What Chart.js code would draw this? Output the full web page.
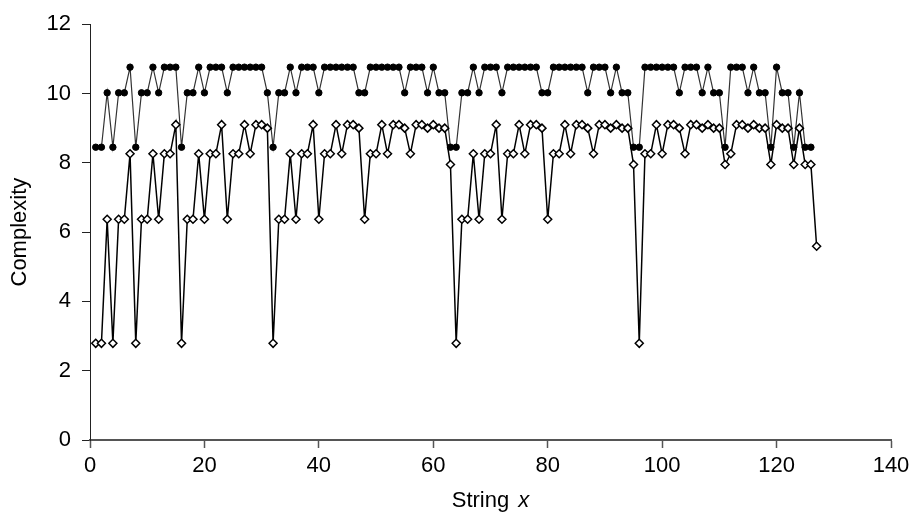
<!DOCTYPE html>
<html>
<head>
<meta charset="utf-8">
<script src="https://cdn.jsdelivr.net/npm/chart.js@4.4.1/dist/chart.umd.min.js"></script>
<style>
    html, body { margin: 0; padding: 0; background: #fff; }
    #wrap { width: 917px; height: 519px; }
</style>
</head>
<body>
<div id="wrap"><canvas id="complexityChart" width="917" height="519"></canvas></div>
<script>
// String index x
const xStrings = [
    1, 2, 3, 4, 5, 6, 7, 8, 9, 10, 11, 12, 13, 14, 15,
    16, 17, 18, 19, 20, 21, 22, 23, 24, 25, 26, 27, 28, 29, 30, 31,
    32, 33, 34, 35, 36, 37, 38, 39, 40, 41, 42, 43, 44, 45, 46, 47,
    48, 49, 50, 51, 52, 53, 54, 55, 56, 57, 58, 59, 60, 61, 62, 63,
    64, 65, 66, 67, 68, 69, 70, 71, 72, 73, 74, 75, 76, 77, 78, 79,
    80, 81, 82, 83, 84, 85, 86, 87, 88, 89, 90, 91, 92, 93, 94, 95,
    96, 97, 98, 99, 100, 101, 102, 103, 104, 105, 106, 107, 108, 109, 110, 111,
    112, 113, 114, 115, 116, 117, 118, 119, 120, 121, 122, 123, 124, 125, 126, 127
];

// Serie com círculos cheios (x = 1..126)
const filledSeries = [
    8.45, 8.45, 10.02, 8.45, 10.02, 10.02, 10.76, 8.45, 10.02, 10.02, 10.76, 10.02, 10.76, 10.76, 10.76,
    8.45, 10.02, 10.02, 10.76, 10.02, 10.76, 10.76, 10.76, 10.02, 10.76, 10.76, 10.76, 10.76, 10.76, 10.76, 10.02,
    8.45, 10.02, 10.02, 10.76, 10.02, 10.76, 10.76, 10.76, 10.02, 10.76, 10.76, 10.76, 10.76, 10.76, 10.76, 10.02,
    10.02, 10.76, 10.76, 10.76, 10.76, 10.76, 10.76, 10.02, 10.76, 10.76, 10.76, 10.02, 10.76, 10.02, 10.02, 8.45,
    8.45, 10.02, 10.02, 10.76, 10.02, 10.76, 10.76, 10.76, 10.02, 10.76, 10.76, 10.76, 10.76, 10.76, 10.76, 10.02,
    10.02, 10.76, 10.76, 10.76, 10.76, 10.76, 10.76, 10.02, 10.76, 10.76, 10.76, 10.02, 10.76, 10.02, 10.02, 8.45,
    8.45, 10.76, 10.76, 10.76, 10.76, 10.76, 10.76, 10.02, 10.76, 10.76, 10.76, 10.02, 10.76, 10.02, 10.02, 8.45,
    10.76, 10.76, 10.76, 10.02, 10.76, 10.02, 10.02, 8.45, 10.76, 10.02, 10.02, 8.45, 10.02, 8.45, 8.45
];

// Serie com losangos vazios (x = 1..127)
const openSeries = [
    2.79, 2.79, 6.37, 2.79, 6.37, 6.37, 8.26, 2.79, 6.37, 6.37, 8.26, 6.37, 8.26, 8.26, 9.1,
    2.79, 6.37, 6.37, 8.26, 6.37, 8.26, 8.26, 9.1, 6.37, 8.26, 8.26, 9.1, 8.26, 9.1, 9.1, 9.0,
    2.79, 6.37, 6.37, 8.26, 6.37, 8.26, 8.26, 9.1, 6.37, 8.26, 8.26, 9.1, 8.26, 9.1, 9.1, 9.0,
    6.37, 8.26, 8.26, 9.1, 8.26, 9.1, 9.1, 9.0, 8.26, 9.1, 9.1, 9.0, 9.1, 9.0, 9.0, 7.95,
    2.79, 6.37, 6.37, 8.26, 6.37, 8.26, 8.26, 9.1, 6.37, 8.26, 8.26, 9.1, 8.26, 9.1, 9.1, 9.0,
    6.37, 8.26, 8.26, 9.1, 8.26, 9.1, 9.1, 9.0, 8.26, 9.1, 9.1, 9.0, 9.1, 9.0, 9.0, 7.95,
    2.79, 8.26, 8.26, 9.1, 8.26, 9.1, 9.1, 9.0, 8.26, 9.1, 9.1, 9.0, 9.1, 9.0, 9.0, 7.95,
    8.26, 9.1, 9.1, 9.0, 9.1, 9.0, 9.0, 7.95, 9.1, 9.0, 9.0, 7.95, 9.0, 7.95, 7.95, 5.59
];

// Ticks dos eixos
const xTicks = [0, 20, 40, 60, 80, 100, 120, 140];
const yTicks = [0, 2, 4, 6, 8, 10, 12];

const FONT = '"Liberation Sans", Arial, sans-serif';

// Titulo do eixo x com o "x" em itálico
const xTitlePlugin = {
    id: 'xTitle',
    afterDraw(chart) {
        const ctx = chart.ctx;
        const area = chart.chartArea;
        const cx = (area.left + area.right) / 2;
        const y = 501;
        ctx.save();
        ctx.fillStyle = '#000';
        ctx.textBaseline = 'middle';
        ctx.textAlign = 'left';
        ctx.font = '22px ' + FONT;
        const part1 = 'String ';
        const w1 = ctx.measureText(part1).width + 3;
        ctx.font = 'italic 22px ' + FONT;
        const w2 = ctx.measureText('x').width;
        const start = cx - (w1 + w2) / 2;
        ctx.font = '22px ' + FONT;
        ctx.fillText(part1, start, y);
        ctx.font = 'italic 22px ' + FONT;
        ctx.fillText('x', start + w1, y);
        ctx.restore();
    }
};

const ctx = document.getElementById('complexityChart').getContext('2d');
new Chart(ctx, {
    type: 'line',
    data: {
        datasets: [{
            label: 'open',
            data: openSeries.map((v, i) => ({ x: xStrings[i], y: v })),
            borderColor: '#000',
            borderWidth: 1.5,
            pointStyle: 'rectRot',
            pointRadius: 4,
            pointBackgroundColor: '#fff',
            pointBorderColor: '#000',
            pointBorderWidth: 1.5,
            tension: 0,
            fill: false
        }, {
            label: 'filled',
            data: filledSeries.map((v, i) => ({ x: xStrings[i], y: v })),
            borderColor: '#333',
            borderWidth: 1.2,
            pointStyle: 'circle',
            pointRadius: 3.2,
            pointBackgroundColor: '#000',
            pointBorderColor: '#000',
            pointBorderWidth: 1,
            tension: 0,
            fill: false
        }]
    },
    options: {
        responsive: false,
        animation: false,
        devicePixelRatio: 1,
        layout: { padding: { top: 15, right: 26, left: 0, bottom: 0 } },
        plugins: {
            legend: { display: false },
            tooltip: { enabled: false }
        },
        scales: {
            x: {
                type: 'linear',
                min: xTicks[0],
                max: xTicks[xTicks.length - 1],
                afterFit: (scale) => { scale.height = 79; },
                afterBuildTicks: (scale) => { scale.ticks = xTicks.map(v => ({ value: v })); },
                border: { color: '#555', width: 2 },
                grid: { drawOnChartArea: false, drawTicks: true, tickLength: 8, tickColor: '#555', tickWidth: 1.5 },
                ticks: { color: '#000', padding: 5, maxRotation: 0, font: { family: FONT, size: 22 } }
            },
            y: {
                min: yTicks[0],
                max: yTicks[yTicks.length - 1],
                afterFit: (scale) => { scale.width = 90; },
                afterBuildTicks: (scale) => { scale.ticks = yTicks.map(v => ({ value: v })); },
                border: { color: '#222', width: 1 },
                grid: { drawOnChartArea: false, drawTicks: true, tickLength: 8, tickColor: '#222', tickWidth: 1 },
                ticks: { color: '#000', padding: 11, font: { family: FONT, size: 22 } },
                title: {
                    display: true,
                    text: 'Complexity',
                    color: '#000',
                    padding: { top: 7, bottom: 0 },
                    font: { family: FONT, size: 22 }
                }
            }
        }
    },
    plugins: [xTitlePlugin]
});
</script>
</body>
</html>
